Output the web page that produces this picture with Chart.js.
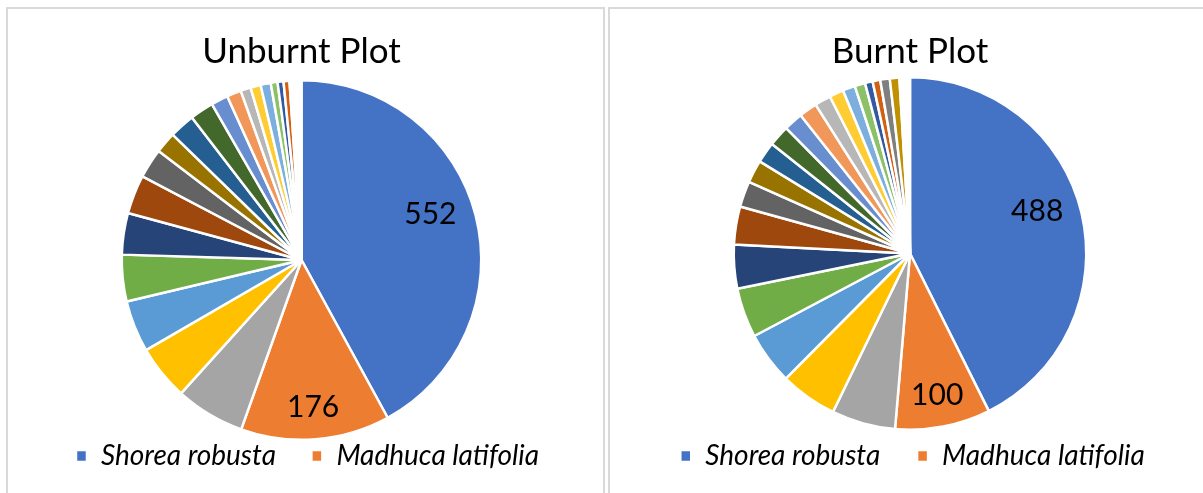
<!DOCTYPE html>
<html>
<head>
<meta charset="utf-8">
<script src="https://cdn.jsdelivr.net/npm/chart.js@4"></script>
<style>
  body { margin: 0; background: #fff; width: 1203px; height: 493px; overflow: hidden; position: relative; }
  .panel { position: absolute; top: 7px; height: 500px; border: 2px solid #d9d9d9; border-bottom: none; background: #fff; }
  #panel1 { left: 6px; width: 595px; }
  #panel2 { left: 608px; width: 600px; border-right: none; }
  .panel canvas { position: absolute; left: 0; top: 0; }
</style>
</head>
<body>
<div class="panel" id="panel1"><canvas id="unburntChart" width="595" height="484"></canvas></div>
<div class="panel" id="panel2"><canvas id="burntChart" width="600" height="484"></canvas></div>
<script>
// species names (only the first two show up in the legend)
const species = ['Shorea robusta', 'Madhuca latifolia'];

// Unburnt plot counts
const unburntValues = [552, 176, 82, 65, 61, 55, 49, 46, 35, 25, 30, 28, 20, 17, 12, 12, 12, 8, 7, 7, 2, 2, 2, 2, 2, 1, 1, 1, 1];
// Burnt plot counts
const burntValues = [488, 100, 67, 60, 55, 52, 46, 40, 27, 24, 22, 22, 20, 19, 17, 15, 13, 11, 8, 8, 10, 10, 2, 2, 2, 1, 1, 1, 1, 1];

// excel office palette
const palette = [
    '#4472C4', '#ED7D31', '#A5A5A5', '#FFC000', '#5B9BD5', '#70AD47',
    '#264478', '#9E480E', '#636363', '#997300', '#255E91', '#43682B',
    '#698ED0', '#F1975A', '#B7B7B7', '#FFCD33', '#7CAFDD', '#8CC168',
    '#335AA1', '#D26012', '#7F7F7F', '#BF9000', '#3C7DBF', '#5A8A39',
    '#8FAADC', '#F4B183', '#C9C9C9', '#FFD966', '#9DC3E6', '#A9D18E'
];

const FONT = 'Lato, "Open Sans", sans-serif';

function makeLabels(values) {
    return values.map((v, i) => species[i] || ('Species ' + (i + 1)));
}

// where the value sits inside its slice: fraction of radius, angle nudge (deg)
const labelPlace = [{ r: 0.76, da: -5 }, { r: 0.82, da: 0 }];

// draws the value of the two big slices inside the pie
const sliceLabels = {
    id: 'sliceLabels',
    afterDatasetsDraw(chart) {
        const ctx = chart.ctx;
        const meta = chart.getDatasetMeta(0);
        const data = chart.data.datasets[0].data;
        ctx.save();
        ctx.fillStyle = '#000';
        ctx.font = '30px ' + FONT;
        ctx.textAlign = 'center';
        ctx.textBaseline = 'middle';
        for (let i = 0; i < 2; i++) {
            const arc = meta.data[i];
            const p = arc.getProps(['x', 'y', 'startAngle', 'endAngle', 'outerRadius'], true);
            const mid = (p.startAngle + p.endAngle) / 2 + labelPlace[i].da * Math.PI / 180;
            const r = p.outerRadius * labelPlace[i].r;
            ctx.fillText(String(data[i]), p.x + Math.cos(mid) * r, p.y + Math.sin(mid) * r);
        }
        ctx.restore();
    }
};

// nudges the legend sideways (excel doesn't center it under the pie)
const legendShift = {
    id: 'legendShift',
    afterLayout(chart, args, opts) {
        const dx = opts.dx || 0;
        chart.legend.left += dx;
        chart.legend.right += dx;
    }
};

function pieChart(id, title, values, cfg) {
    const ctx = document.getElementById(id).getContext('2d');
    return new Chart(ctx, {
        type: 'pie',
        data: {
            labels: makeLabels(values),
            datasets: [{
                data: values,
                backgroundColor: palette.slice(0, values.length),
                borderColor: '#ffffff',
                borderWidth: 2.5
            }]
        },
        options: {
            responsive: false,
            animation: false,
            layout: { padding: cfg.layoutPad },
            plugins: {
                title: {
                    display: true,
                    text: title,
                    color: '#000',
                    font: { family: FONT, size: 35, weight: 'normal' },
                    padding: cfg.titlePad
                },
                legend: {
                    position: 'bottom',
                    labels: {
                        generateLabels(chart) {
                            const items = Chart.overrides.pie.plugins.legend.labels.generateLabels(chart).slice(0, 2);
                            items[0].text += cfg.gap;
                            return items;
                        },
                        boxWidth: 11,
                        boxHeight: 12,
                        color: '#000',
                        padding: cfg.legendPad,
                        font: { family: FONT, size: 28, style: 'italic' }
                    }
                },
                legendShift: { dx: cfg.shift },
                tooltip: { enabled: false }
            }
        },
        plugins: [sliceLabels, legendShift]
    });
}

pieChart('unburntChart', 'Unburnt Plot', unburntValues, {
    titlePad: { top: 22, bottom: 6 },
    layoutPad: { left: 0, right: 8, top: 0, bottom: 13 },
    legendPad: 1,
    gap: '\u2002\u2002\u2004',
    shift: 6
});
pieChart('burntChart', 'Burnt Plot', burntValues, {
    titlePad: { top: 22, bottom: 3 },
    layoutPad: { left: 0, right: 0, top: 0, bottom: 13 },
    legendPad: 11,
    gap: '\u2002\u2002',
    shift: 2.5
});
</script>
</body>
</html>
